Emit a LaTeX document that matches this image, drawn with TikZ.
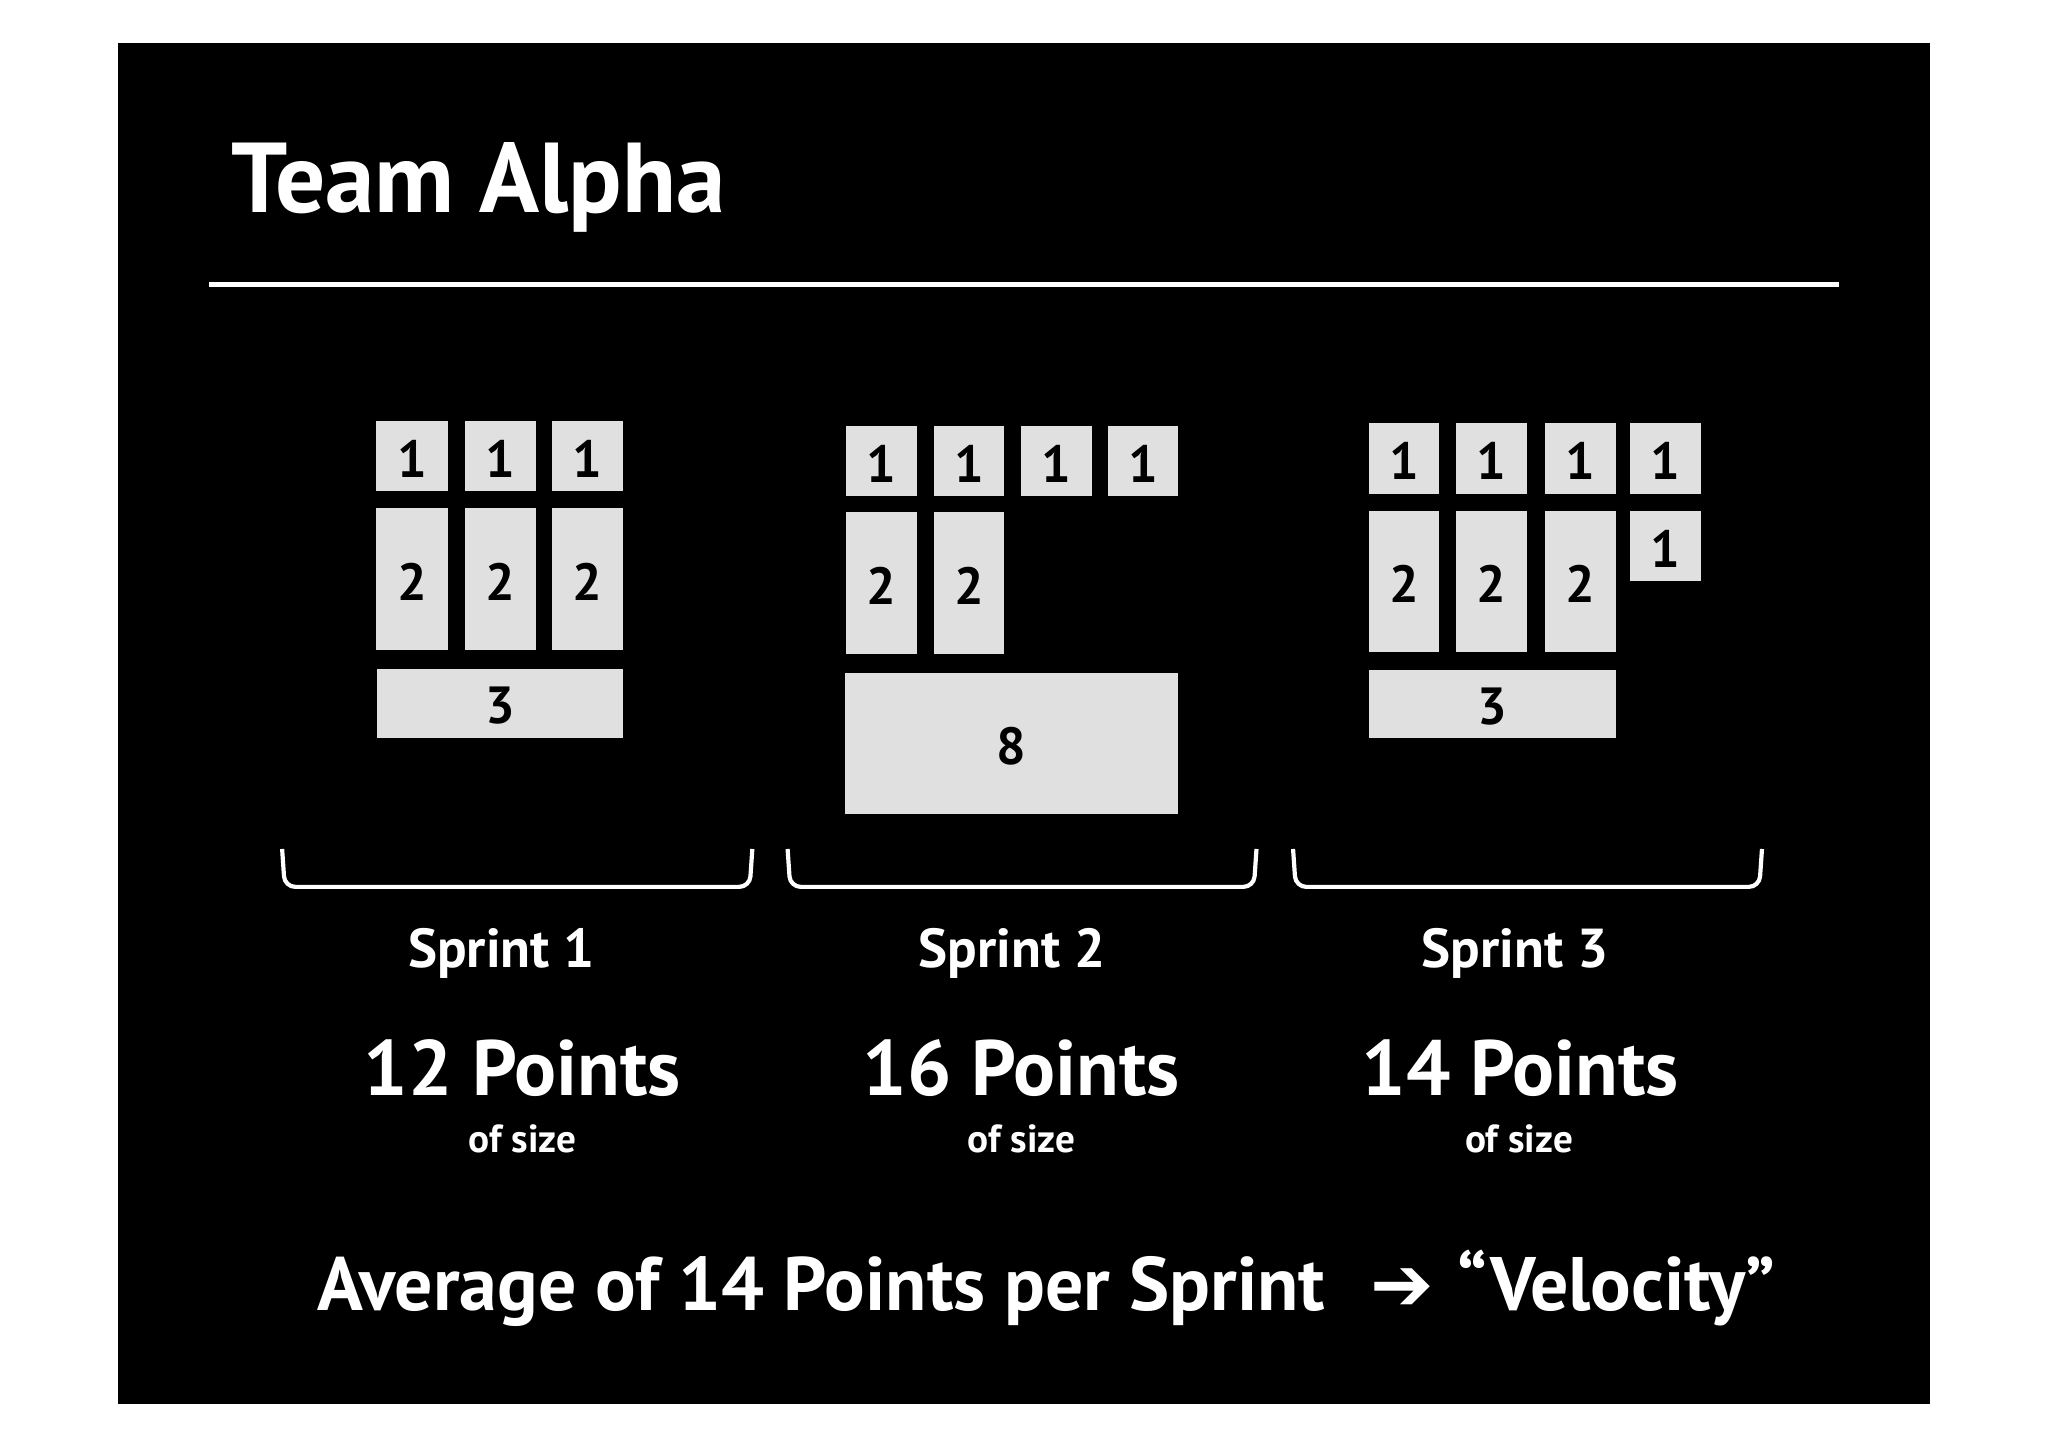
\documentclass[tikz,border=0pt]{standalone}
\usepackage{fontspec}
\setmainfont{PT Sans}
\newfontfamily\symfont{DejaVu Sans}
\definecolor{card}{HTML}{E0E0E0}
\begin{document}
\begin{tikzpicture}[x=0.5pt,y=-0.5pt,
  card/.style={fill=card,draw=none},
  num/.style={font=\fontsize{20}{20}\selectfont\bfseries,text=black},
  lbl/.style={font=\fontsize{21}{21}\selectfont\bfseries,text=white},
  pts/.style={font=\fontsize{30}{30}\selectfont\bfseries,text=white},
  sml/.style={font=\fontsize{15}{15}\selectfont\bfseries,text=white},
  brk/.style={draw=white,line width=1.6pt,rounded corners=4pt}]
\useasboundingbox (0,0) rectangle (1568,1107);
\fill[white] (0,0) rectangle (1568,1107);
\fill[black] (90,33) rectangle (1478,1075);
\node[anchor=base west,text=white,font=\fontsize{38}{38}\selectfont\bfseries] (title) at (170,163) {Team Alpha};
\coordinate (l1) at (160,218); \coordinate (l2) at (1408,218);
\draw[white,line width=2pt] (l1) -- (l2);
% helper macro
\newcommand\cardbox[6]{\path[card] (#2,#3) rectangle (#4,#5); \node[num] (#1) at ({(#2+#4)/2},{(#3+#5)/2+2}) {#6};}
% Sprint 1
\cardbox{a1}{288}{322}{343}{376}{1}
\cardbox{a2}{356}{322}{410}{376}{1}
\cardbox{a3}{423}{322}{477}{376}{1}
\cardbox{a4}{288}{389}{343}{498}{2}
\cardbox{a5}{356}{389}{410}{498}{2}
\cardbox{a6}{423}{389}{477}{498}{2}
\cardbox{a7}{289}{512}{477}{565}{3}
% Sprint 2
\cardbox{b1}{648}{326}{702}{380}{1}
\cardbox{b2}{715}{326}{769}{380}{1}
\cardbox{b3}{782}{326}{836}{380}{1}
\cardbox{b4}{848}{326}{902}{380}{1}
\cardbox{b5}{648}{392}{702}{501}{2}
\cardbox{b6}{715}{392}{769}{501}{2}
\cardbox{b7}{647}{515}{902}{623}{8}
% Sprint 3
\cardbox{c1}{1048}{324}{1102}{378}{1}
\cardbox{c2}{1115}{324}{1169}{378}{1}
\cardbox{c3}{1183}{324}{1237}{378}{1}
\cardbox{c4}{1248}{324}{1302}{378}{1}
\cardbox{c5}{1048}{391}{1102}{499}{2}
\cardbox{c6}{1115}{391}{1169}{499}{2}
\cardbox{c7}{1183}{391}{1237}{499}{2}
\cardbox{c8}{1248}{391}{1302}{445}{1}
\cardbox{c9}{1048}{513}{1237}{565}{3}
% brackets
\draw[brk] (216,650) -- (218,679) -- (574,679) -- (576,650);
\draw[brk] (603,650) -- (605,679) -- (960,679) -- (962,650);
\draw[brk] (990,650) -- (992,679) -- (1347,679) -- (1349,650);
% labels
\node[lbl] (s1) at (384,730) {Sprint 1};
\node[lbl] (s2) at (775,730) {Sprint 2};
\node[lbl] (s3) at (1160,730) {Sprint 3};
\node[pts] (p1) at (400,818) {12 Points};
\node[pts] (p2) at (782,818) {16 Points};
\node[pts] (p3) at (1164,818) {14 Points};
\node[sml] (o1) at (400,872) {of size};
\node[sml] (o2) at (782,872) {of size};
\node[sml] (o3) at (1163,872) {of size};
\node[pts,anchor=base west,font=\fontsize{29}{29}\selectfont\bfseries] (avg) at (236,1003) {Average of 14 Points per Sprint\hspace{0.6em}{\symfont\bfseries ➔}\hspace{0.3em}“Velocity”};
\end{tikzpicture}
\end{document}
